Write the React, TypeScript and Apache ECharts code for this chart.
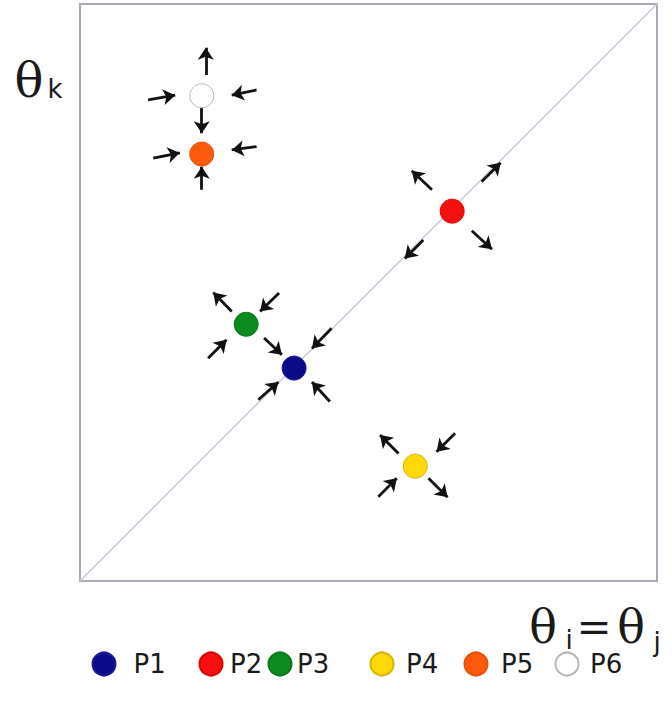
import React, { useEffect, useRef } from "react";
import * as echarts from "echarts";

// ---- data (axis units 0..100 on both axes) ----
const seriesNames = ["P1", "P2", "P3", "P4", "P5", "P6"];
const pointX = [37.1, 64.5, 28.8, 58.1, 21.1, 21.1];
const pointY = [36.9, 64.1, 44.5, 19.9, 74.0, 84.1];
const pointColors = ["#0b0b8a", "#f50f0f", "#0c8a1f", "#ffd80a", "#fb5a0c", "#ffffff"];
const pointBorders = ["#1a1a9a", "#e00000", "#0a7a1a", "#d8b400", "#e85008", "#b8b8b8"];

const diagonal = [[0, 0], [100, 100]];

// arrows: start point and end (tip) point
const arrowStart = [
  // P6
  [21.8, 87.7], [11.8, 83.4], [30.6, 85.1], [21.1, 82.0],
  // P5
  [12.7, 73.3], [30.6, 75.3], [21.1, 67.8],
  // P2
  [61.0, 67.8], [69.6, 69.2], [59.5, 59.1], [67.9, 60.7],
  // P3
  [26.3, 46.7], [34.5, 49.9], [22.2, 38.6], [31.9, 42.1],
  // P1
  [43.6, 43.8], [30.9, 31.4], [43.3, 31.1],
  // P4
  [55.2, 22.1], [65.0, 25.6], [51.7, 14.6], [60.4, 17.8],
];
const arrowEnd = [
  [21.8, 92.4], [16.5, 84.2], [26.3, 84.2], [21.1, 77.6],
  [17.3, 74.2], [26.3, 74.7], [21.1, 71.8],
  [57.5, 71.1], [72.9, 72.5], [56.3, 55.9], [71.4, 57.5],
  [23.1, 50.0], [31.2, 46.7], [25.4, 41.8], [35.0, 39.2],
  [40.2, 40.3], [34.4, 34.5], [40.2, 34.5],
  [52.0, 25.3], [61.8, 22.4], [54.9, 17.8], [63.7, 14.5],
];

// ---- layout constants ----
const legendCenters = [103, 210, 279, 381, 475, 566];
const legendTextGaps = [18, 7.5, 5.5, 12.5, 13.5, 11.5];

export default function App() {
  const ref = useRef<HTMLDivElement>(null);

  useEffect(() => {
    document.body.style.margin = "0";
    if (!ref.current) return;
    const chart = echarts.init(ref.current, null, { renderer: "svg" });

    const scatterSeries = seriesNames.map((name, i) => ({
      name,
      type: "scatter",
      data: [[pointX[i], pointY[i]]],
      symbol: "circle",
      symbolSize: 24,
      z: 5,
      itemStyle: {
        color: pointColors[i],
        borderColor: pointBorders[i],
        borderWidth: 1,
        opacity: 1,
      },
    }));

    const legends = seriesNames.map((name, i) => ({
      data: [name],
      left: legendCenters[i] - 11.5,
      top: 651,
      padding: 0,
      itemWidth: 23,
      itemHeight: 23,
      icon: "circle",
      selectedMode: false,
      textStyle: {
        fontSize: 26,
        lineHeight: 24,
        color: "#1a1a1a",
        fontFamily: "DejaVu Sans",
        padding: [2, 0, 0, legendTextGaps[i] - 5],
      },
    }));

    const thetaFont = "46px 'DejaVu Serif'";
    const subFont = "26px 'DejaVu Sans'";
    const mk = (x: number, y: number, text: string, font: string, lh: number) => ({
      type: "text",
      x,
      y,
      silent: true,
      style: { text, font, lineHeight: lh, fill: "#1a1a1a", textAlign: "center", textVerticalAlign: "middle" },
    });

    chart.setOption({
      animation: false,
      backgroundColor: "#ffffff",
      grid: {
        left: 80,
        top: 4,
        width: 577,
        height: 577,
        show: true,
        borderColor: "#a9a9ba",
        borderWidth: 2,
        backgroundColor: "#ffffff",
      },
      xAxis: {
        type: "value",
        min: 0,
        max: 100,
        axisLine: { show: false },
        axisTick: { show: false },
        axisLabel: { show: false },
        splitLine: { show: false },
      },
      yAxis: {
        type: "value",
        min: 0,
        max: 100,
        axisLine: { show: false },
        axisTick: { show: false },
        axisLabel: { show: false },
        splitLine: { show: false },
      },
      legend: legends,
      graphic: [
        mk(29, 80, "θ", "48px 'DejaVu Serif'", 36),
        mk(55, 89, "k", subFont, 22),
        mk(543, 627, "θ", thetaFont, 34),
        mk(569, 640, "i", subFont, 20),
        mk(594, 627, "=", "42px 'DejaVu Serif'", 28),
        mk(631, 627, "θ", thetaFont, 34),
        mk(657, 642, "j", subFont, 20),
      ],
      series: [
        {
          type: "line",
          data: diagonal,
          symbol: "none",
          silent: true,
          z: 1,
          lineStyle: { color: "#c6c9dc", width: 1.5 },
        },
        {
          type: "lines",
          coordinateSystem: "cartesian2d",
          silent: true,
          z: 3,
          symbol: ["none", "arrow"],
          symbolSize: 12,
          lineStyle: { color: "#111111", width: 2.8, opacity: 1, curveness: 0 },
          data: arrowStart.map((s, i) => ({ coords: [s, arrowEnd[i]] })),
        },
        ...scatterSeries,
      ],
    });

    return () => chart.dispose();
  }, []);

  return <div ref={ref} style={{ width: 672, height: 711 }} />;
}
